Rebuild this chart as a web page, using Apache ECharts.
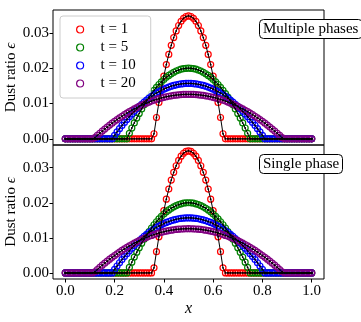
<!DOCTYPE html>
<html>
<head>
<meta charset="utf-8">
<script src="https://cdn.jsdelivr.net/npm/echarts@6/dist/echarts.min.js"></script>
<style>
html,body{margin:0;padding:0;background:#fff;}
#chart{width:361px;height:322px;}
</style>
</head>
<body>
<div id="chart"></div>
<script>
// x positions of the samples
const xs = [0,0.01,0.02,0.03,0.04,0.05,0.06,0.07,0.08,0.09,0.1,0.11,0.12,0.13,0.14,0.15,0.16,0.17,0.18,0.19,0.2,0.21,0.22,0.23,0.24,0.25,0.26,0.27,0.28,0.29,0.3,0.31,0.32,0.33,0.34,0.35,0.36,0.37,0.38,0.39,0.4,0.41,0.42,0.43,0.44,0.45,0.46,0.47,0.48,0.49,0.5,0.51,0.52,0.53,0.54,0.55,0.56,0.57,0.58,0.59,0.6,0.61,0.62,0.63,0.64,0.65,0.66,0.67,0.68,0.69,0.7,0.71,0.72,0.73,0.74,0.75,0.76,0.77,0.78,0.79,0.8,0.81,0.82,0.83,0.84,0.85,0.86,0.87,0.88,0.89,0.9,0.91,0.92,0.93,0.94,0.95,0.96,0.97,0.98,0.99,1];

const eps_t1 = [0,0,0,0,0,0,0,0,0,0,0,0,0,0,0,0,0,0,0,0,0,0,0,0,0,0,0,0,0,0,0,0,0,0,0,0,
  0.00144,0.00604,0.01029,0.01421,0.01778,0.02102,0.02391,0.02646,0.02867,0.03055,0.03208,0.03327,0.03412,0.03463,0.0348,
  0.03463,0.03412,0.03327,0.03208,0.03055,0.02867,0.02646,0.02391,0.02102,0.01778,0.01421,0.01029,0.00604,0.00144,
  0,0,0,0,0,0,0,0,0,0,0,0,0,0,0,0,0,0,0,0,0,0,0,0,0,0,0,0,0,0,0,0,0,0,0,0];

const eps_t5 = [0,0,0,0,0,0,0,0,0,0,0,0,0,0,0,0,0,0,0,0,0,0,0,0,0,0,
  0.00157,0.00307,0.00451,0.00589,0.00720,0.00845,0.00963,0.01075,0.01181,0.01280,0.01373,0.01459,0.01539,0.01613,0.01680,0.01741,0.01795,0.01843,0.01885,0.01920,0.01949,0.01971,0.01987,0.01997,0.0200,
  0.01997,0.01987,0.01971,0.01949,0.01920,0.01885,0.01843,0.01795,0.01741,0.01680,0.01613,0.01539,0.01459,0.01373,0.01280,0.01181,0.01075,0.00963,0.00845,0.00720,0.00589,0.00451,0.00307,0.00157,
  0,0,0,0,0,0,0,0,0,0,0,0,0,0,0,0,0,0,0,0,0,0,0,0,0,0];

const eps_t10 = [0,0,0,0,0,0,0,0,0,0,0,0,0,0,0,0,0,0,0,0,
  0.00100,0.00196,0.00289,0.00379,0.00466,0.00549,0.00629,0.00706,0.00779,0.00850,0.00917,0.00980,0.01041,0.01098,0.01152,0.01202,0.01250,0.01294,0.01335,0.01372,0.01407,0.01438,0.01465,0.01490,0.01511,0.01529,0.01544,0.01555,0.01563,0.01568,0.0157,
  0.01568,0.01563,0.01555,0.01544,0.01529,0.01511,0.01490,0.01465,0.01438,0.01407,0.01372,0.01335,0.01294,0.01250,0.01202,0.01152,0.01098,0.01041,0.00980,0.00917,0.00850,0.00779,0.00706,0.00629,0.00549,0.00466,0.00379,0.00289,0.00196,0.00100,
  0,0,0,0,0,0,0,0,0,0,0,0,0,0,0,0,0,0,0,0];

const eps_t20 = [0,0,0,0,0,0,0,0,0,0,0,0,
  0.00033,0.00096,0.00158,0.00219,0.00277,0.00334,0.00390,0.00443,0.00495,0.00545,0.00594,0.00640,0.00685,0.00729,0.00770,0.00810,0.00849,0.00885,0.00920,0.00953,0.00985,0.01014,0.01042,0.01069,0.01093,0.01116,0.01138,0.01157,0.01175,0.01191,0.01206,0.01218,0.01229,0.01239,0.01246,0.01252,0.01257,0.01259,0.0126,
  0.01259,0.01257,0.01252,0.01246,0.01239,0.01229,0.01218,0.01206,0.01191,0.01175,0.01157,0.01138,0.01116,0.01093,0.01069,0.01042,0.01014,0.00985,0.00953,0.00920,0.00885,0.00849,0.00810,0.00770,0.00729,0.00685,0.00640,0.00594,0.00545,0.00495,0.00443,0.00390,0.00334,0.00277,0.00219,0.00158,0.00096,0.00033,
  0,0,0,0,0,0,0,0,0,0,0,0];

const seriesNames = ['t = 1','t = 5','t = 10','t = 20'];
const seriesColors = ['#ff0000','#008000','#0000ff','#800080'];
const seriesData = [eps_t1, eps_t5, eps_t10, eps_t20];
const panelLabels = ['Multiple phases','Single phase'];
const xTicks = [0,0.2,0.4,0.6,0.8,1.0];
const yTicks = [0,0.01,0.02,0.03];

const FONT = 'Liberation Serif, DejaVu Serif, serif';
const chart = echarts.init(document.getElementById('chart'), null, {renderer:'canvas'});

const grids = [
  {left:53, top:10, width:271, height:135, show:true, borderColor:'#000', borderWidth:1, containLabel:false, outerBoundsMode:'none'},
  {left:53, top:145, width:271, height:134, show:true, borderColor:'#000', borderWidth:1, containLabel:false, outerBoundsMode:'none'}
];

const xAxes = grids.map((g, gi) => ({
  type:'value', gridIndex:gi, min:-0.05, max:1.05,
  splitLine:{show:false},
  axisLine:{show:false, onZero:false},
  axisTick:{show: gi===1, inside:false, length:3.5, lineStyle:{color:'#000'}, customValues:xTicks},
  axisLabel:{show: gi===1, customValues:xTicks, formatter:v=>v.toFixed(1), color:'#000', fontFamily:FONT, fontSize:15, margin:5},
  name: gi===1 ? 'x' : '', nameLocation:'middle', nameGap:22, nameMoveOverlap:false,
  nameTextStyle:{fontFamily:FONT, fontStyle:'italic', fontSize:16, color:'#000'}
}));

const yAxes = grids.map((g, gi) => ({
  type:'value', gridIndex:gi, min:-0.00174, max:0.03647,
  splitLine:{show:false},
  axisLine:{show:false, onZero:false},
  axisTick:{show:true, inside:false, length:3.5, lineStyle:{color:'#000'}, customValues:yTicks},
  axisLabel:{customValues:yTicks, formatter:v=>v.toFixed(2), color:'#000', fontFamily:FONT, fontSize:15, margin:4},
  name:'Dust ratio {i|ϵ}', nameLocation:'middle', nameGap:34, nameRotate:90, nameMoveOverlap:false,
  nameTextStyle:{fontFamily:FONT, fontSize:15, color:'#000', rich:{i:{fontFamily:FONT, fontStyle:'italic', fontSize:15, color:'#000'}}}
}));

const series = [];
for (let gi = 0; gi < 2; gi++) {
  seriesData.forEach((arr, si) => {
    series.push({
      type:'scatter', name:seriesNames[si], xAxisIndex:gi, yAxisIndex:gi,
      data: xs.map((x, i) => [x, arr[i]]),
      symbol:'circle', symbolSize:6,
      itemStyle:{color:'rgba(0,0,0,0)', borderColor:seriesColors[si], borderWidth:1.2, opacity:1},
      emphasis:{disabled:true}, z:2 + si
    });
  });
  seriesData.forEach((arr, si) => {
    series.push({
      type:'line', name:'analytic' + si, xAxisIndex:gi, yAxisIndex:gi,
      data: xs.map((x, i) => [x, arr[i]]),
      symbol:'circle', symbolSize:1.8, showSymbol:true,
      itemStyle:{color:'#000'}, lineStyle:{color:'#000', width:1},
      emphasis:{disabled:true}, z:10
    });
  });
}

chart.setOption({
  animation:false,
  backgroundColor:'#fff',
  grid:grids,
  xAxis:xAxes,
  yAxis:yAxes,
  legend:{
    left:60, top:16, orient:'vertical',
    data: seriesNames.map((n, i) => ({name:n, icon:'circle', itemStyle:{color:'rgba(0,0,0,0)', borderColor:seriesColors[i], borderWidth:1.2}})),
    itemWidth:7, itemHeight:7, itemGap:3,
    padding:[6,15,7,16],
    formatter: n => '{p|}' + n,
    borderColor:'#cccccc', borderWidth:1, borderRadius:3,
    backgroundColor:'rgba(255,255,255,0.8)',
    textStyle:{fontFamily:FONT, fontSize:15, color:'#000', lineHeight:15, rich:{p:{width:12}}},
    selectedMode:false
  },
  title: panelLabels.map((t, i) => ({
    text:t, left:259, top: i===0 ? 19 : 154,
    padding:[2,4,2,4],
    borderColor:'#000', borderWidth:1, borderRadius:4, backgroundColor:'#fff',
    textStyle:{fontFamily:FONT, fontSize:15, fontWeight:'normal', color:'#000', lineHeight:16}
  })),
  series:series
});
</script>
</body>
</html>
